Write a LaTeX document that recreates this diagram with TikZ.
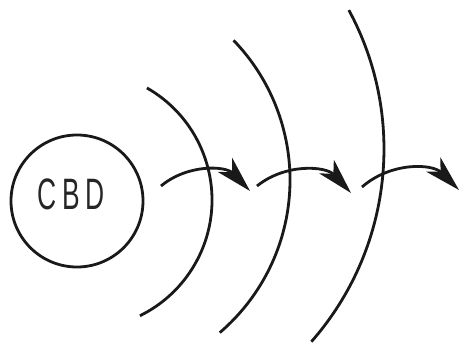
\documentclass[tikz,border=0pt]{standalone}
\usepackage{fontspec}
\newfontfamily\cbdfont[FakeStretch=0.6]{Liberation Sans}
\usetikzlibrary{arrows.meta}
\begin{document}
\begin{tikzpicture}[x=1pt,y=1pt,
line/.style={draw=black!90, line width=2.8pt},
hop/.style={line, -{Stealth[length=36pt, width=20pt, inset=10pt]}, bend left=43},
city/.style={line, circle, minimum size=132pt, inner sep=0pt}
]
\useasboundingbox (0,0) rectangle (460,343);
\node[city] (cbd) at (77,142) {};
\node[text=black!85, font=\cbdfont\fontsize{44}{44}\selectfont] (lbl) at (71,149) {C\hspace{6pt}B\hspace{6pt}D};

\draw[line] (83,143) ++(60.3:129) arc[start angle=60.3, end angle=-63.8, radius=129];
\draw[line] (89,163) ++(44:201) arc[start angle=44, end angle=-49.4, radius=201];
\draw[line] (92,194) ++(28.4:292) arc[start angle=28.4, end angle=-41.3, radius=292];

\coordinate (s1) at (161,157);
\coordinate (e1) at (250,152);
\coordinate (s2) at (257,157);
\coordinate (e2) at (351,150);
\coordinate (s3) at (362,156);
\coordinate (e3) at (459,153);

\draw[hop] (s1) to (e1);
\draw[hop] (s2) to (e2);
\draw[hop] (s3) to (e3);
\end{tikzpicture}
\end{document}
